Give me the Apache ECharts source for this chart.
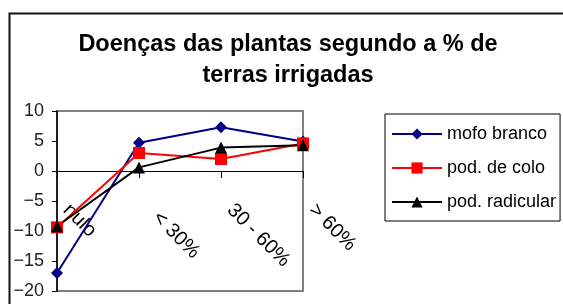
<!DOCTYPE html>
<html>
<head>
<meta charset="utf-8">
<script src="https://cdn.jsdelivr.net/npm/echarts@6/dist/echarts.min.js"></script>
<style>html,body{margin:0;padding:0;background:#fff;}#c{width:563px;height:304px;}</style>
</head>
<body>
<div id="c"></div>
<script>
const titleText = 'Doenças das plantas segundo a % de\nterras irrigadas';
const categories = ['nulo', '< 30%', '30 - 60%', '> 60%'];
const seriesNames = ['mofo branco', 'pod. de colo', 'pod. radicular'];
const mofoBranco = [-17, 4.7, 7.3, 4.9];
const podColo = [-9.4, 3, 2, 4.6];
const podRadicular = [-9.2, 0.6, 3.9, 4.3];
const yTicks = [-20, -15, -10, -5, 0, 5, 10];

const chart = echarts.init(document.getElementById('c'), null, {renderer: 'canvas'});
const font = 'Liberation Sans, Arial, sans-serif';
const catData = categories.map((c, i) => i === 1 ? {value: c, textStyle: {padding: [0, 0, 0, 24]}} : c);
chart.setOption({
  animation: false,
  graphic: [{
    type: 'rect', left: 7, top: 11, silent: true,
    shape: {x: 0, y: 0, width: 700, height: 500},
    style: {fill: 'none', stroke: '#111', lineWidth: 2}
  }],
  title: {
    text: titleText, left: 283, top: 24, textAlign: 'center',
    textStyle: {fontFamily: font, fontSize: 23.5, fontWeight: 'bold', color: '#000', lineHeight: 31}
  },
  grid: {left: 57, top: 111, right: 260, bottom: 13, show: true, borderColor: '#808080', borderWidth: 2, backgroundColor: 'transparent', outerBoundsMode: 'none', containLabel: false},
  legend: {
    orient: 'vertical', left: 385, top: 114,
    data: seriesNames,
    itemWidth: 50, itemHeight: 14, itemGap: 16,
    padding: [11, 4, 10, 6],
    borderColor: '#000', borderWidth: 1,
    textStyle: {fontFamily: font, fontSize: 18, color: '#000'}
  },
  xAxis: {
    type: 'category', data: catData, boundaryGap: false,
    axisLine: {onZero: true, lineStyle: {color: '#000', width: 1}},
    axisTick: {show: true, length: 7, lineStyle: {color: '#000'}},
    axisLabel: {rotate: -45, margin: -93, fontFamily: font, fontSize: 20, color: '#000', interval: 0, padding: [0, 0, 0, 13]},
    splitLine: {show: false}
  },
  yAxis: {
    type: 'value', min: yTicks[0], max: yTicks[yTicks.length - 1], interval: 5,
    axisLine: {show: true, onZero: false, lineStyle: {color: '#000', width: 1.5}},
    axisTick: {show: true, length: 5, lineStyle: {color: '#000'}},
    axisLabel: {margin: 13, fontFamily: font, fontSize: 18, color: '#222', formatter: v => String(v).replace('-', '\u2212')},
    splitLine: {show: false}
  },
  series: [
    {name: seriesNames[0], type: 'line', data: mofoBranco, symbol: 'diamond', symbolSize: 12,
     lineStyle: {color: '#000080', width: 2}, itemStyle: {color: '#000080'}},
    {name: seriesNames[1], type: 'line', data: podColo, symbol: 'rect', symbolSize: 12,
     lineStyle: {color: '#ff0000', width: 2}, itemStyle: {color: '#ff0000'}},
    {name: seriesNames[2], type: 'line', data: podRadicular, symbol: 'triangle', symbolSize: 12,
     lineStyle: {color: '#000000', width: 2}, itemStyle: {color: '#000000'}}
  ]
});
</script>
</body>
</html>
